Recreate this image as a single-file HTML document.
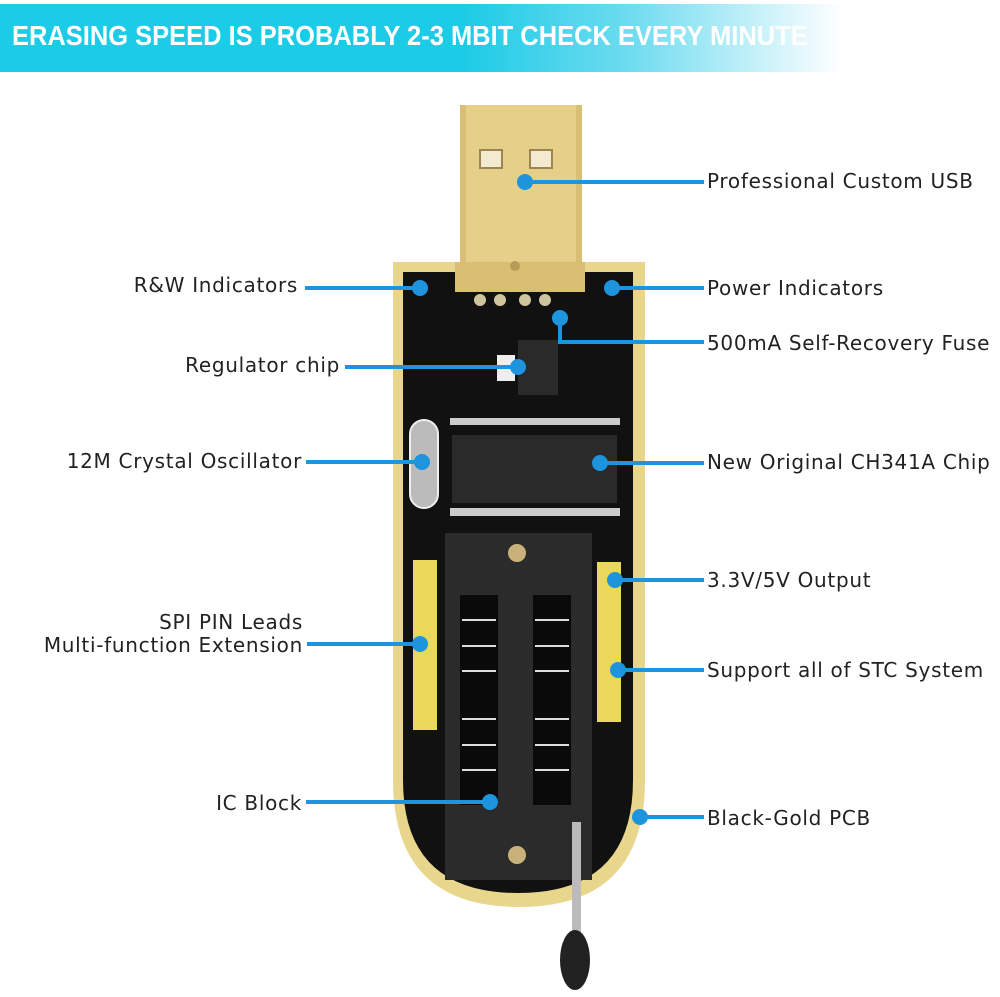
<!DOCTYPE html>
<html><head><meta charset="utf-8"><style>
body{margin:0;width:1000px;height:997px;background:#fff;position:relative;overflow:hidden;font-family:"Liberation Sans",sans-serif}
.banner{position:absolute;left:0;top:4px;width:842px;height:68px;background:linear-gradient(90deg,#1ccbe6 0%,#1ccbe6 55%,#6fdcf0 75%,#ffffff 100%)}
.banner span{position:absolute;left:12px;top:18px;color:#fff;font-weight:bold;font-size:28px;line-height:28px;white-space:nowrap;transform:scaleX(0.91);transform-origin:left}
.l{position:absolute;font-family:"DejaVu Sans",sans-serif;font-size:20px;letter-spacing:0.7px;color:#222;white-space:nowrap;line-height:23px}
.r{text-align:right}
</style></head><body>
<div class="banner"><span>ERASING SPEED IS PROBABLY 2-3 MBIT CHECK EVERY MINUTE</span></div>
<svg width="1000" height="997" style="position:absolute;left:0;top:0">
<rect x="460" y="105" width="122" height="190" fill="#d9bf73"/>
<rect x="466" y="105" width="110" height="180" fill="#e6cf88"/>
<rect x="480" y="150" width="22" height="18" fill="#f4ead0" stroke="#9c8550" stroke-width="2"/>
<rect x="530" y="150" width="22" height="18" fill="#f4ead0" stroke="#9c8550" stroke-width="2"/>
<path d="M393 262 H645 V780 Q645 907 519 907 Q393 907 393 780 Z" fill="#e8d68c"/>
<path d="M403 272 H633 V780 Q633 893 518 893 Q403 893 403 780 Z" fill="#111"/>
<rect x="455" y="262" width="130" height="30" fill="#d9bf73"/>
<circle cx="515" cy="266" r="5" fill="#b59b55"/>
<g fill="#cfc6a0"><circle cx="480" cy="300" r="6"/><circle cx="500" cy="300" r="6"/><circle cx="525" cy="300" r="6"/><circle cx="545" cy="300" r="6"/></g>
<rect x="518" y="340" width="40" height="55" fill="#2a2a2a"/>
<rect x="497" y="355" width="18" height="26" fill="#eee"/>
<rect x="450" y="418" width="170" height="7" fill="#ccc"/>
<rect x="452" y="435" width="165" height="68" fill="#2a2a2a"/>
<rect x="450" y="508" width="170" height="8" fill="#ccc"/>
<rect x="410" y="420" width="28" height="88" rx="14" fill="#bbb" stroke="#eee" stroke-width="2"/>
<rect x="413" y="560" width="24" height="170" fill="#e9d85a"/>
<rect x="597" y="562" width="24" height="160" fill="#e9d85a"/>
<rect x="445" y="533" width="147" height="347" fill="#2b2b2b"/>
<g fill="#0a0a0a">
<rect x="460" y="595" width="38" height="210"/><rect x="533" y="595" width="38" height="210"/></g>
<g stroke="#ddd" stroke-width="2">
<line x1="462" y1="620" x2="496" y2="620"/><line x1="535" y1="620" x2="569" y2="620"/>
<line x1="462" y1="646" x2="496" y2="646"/><line x1="535" y1="646" x2="569" y2="646"/>
<line x1="462" y1="671" x2="496" y2="671"/><line x1="535" y1="671" x2="569" y2="671"/>
<line x1="462" y1="719" x2="496" y2="719"/><line x1="535" y1="719" x2="569" y2="719"/>
<line x1="462" y1="745" x2="496" y2="745"/><line x1="535" y1="745" x2="569" y2="745"/>
<line x1="462" y1="770" x2="496" y2="770"/><line x1="535" y1="770" x2="569" y2="770"/></g>
<circle cx="517" cy="553" r="9" fill="#c9b27a"/><circle cx="517" cy="855" r="9" fill="#c9b27a"/>
<rect x="572" y="822" width="9" height="120" fill="#bbb"/>
<ellipse cx="575" cy="960" rx="15" ry="30" fill="#222"/>
<g stroke="#1e94de" stroke-width="4" fill="none">
<line x1="525" y1="182" x2="704" y2="182"/>
<line x1="305" y1="288" x2="420" y2="288"/>
<line x1="612" y1="288" x2="704" y2="288"/>
<polyline points="560,318 560,342 704,342"/>
<line x1="345" y1="367" x2="518" y2="367"/>
<line x1="306" y1="462" x2="422" y2="462"/>
<line x1="600" y1="463" x2="704" y2="463"/>
<line x1="615" y1="580" x2="704" y2="580"/>
<line x1="307" y1="644" x2="420" y2="644"/>
<line x1="618" y1="670" x2="704" y2="670"/>
<line x1="306" y1="802" x2="490" y2="802"/>
<line x1="640" y1="817" x2="704" y2="817"/>
</g>
<g fill="#1e94de">
<circle cx="525" cy="182" r="8"/><circle cx="420" cy="288" r="8"/><circle cx="612" cy="288" r="8"/>
<circle cx="560" cy="318" r="8"/><circle cx="518" cy="367" r="8"/><circle cx="422" cy="462" r="8"/>
<circle cx="600" cy="463" r="8"/><circle cx="615" cy="580" r="8"/><circle cx="420" cy="644" r="8"/>
<circle cx="618" cy="670" r="8"/><circle cx="490" cy="802" r="8"/><circle cx="640" cy="817" r="8"/>
</g>
</svg>
<div class="l" style="left:707px;top:170px">Professional Custom USB</div>
<div class="l r" style="right:702px;top:274px">R&amp;W Indicators</div>
<div class="l" style="left:707px;top:277px">Power Indicators</div>
<div class="l" style="left:707px;top:332px">500mA Self-Recovery Fuse</div>
<div class="l r" style="right:660px;top:354px">Regulator chip</div>
<div class="l r" style="right:698px;top:450px">12M Crystal Oscillator</div>
<div class="l" style="left:707px;top:451px">New Original CH341A Chip</div>
<div class="l" style="left:707px;top:569px">3.3V/5V Output</div>
<div class="l r" style="right:697px;top:611px">SPI PIN Leads<br>Multi-function Extension</div>
<div class="l" style="left:707px;top:659px">Support all of STC System</div>
<div class="l r" style="right:698px;top:792px">IC Block</div>
<div class="l" style="left:707px;top:807px">Black-Gold PCB</div>
</body></html>
